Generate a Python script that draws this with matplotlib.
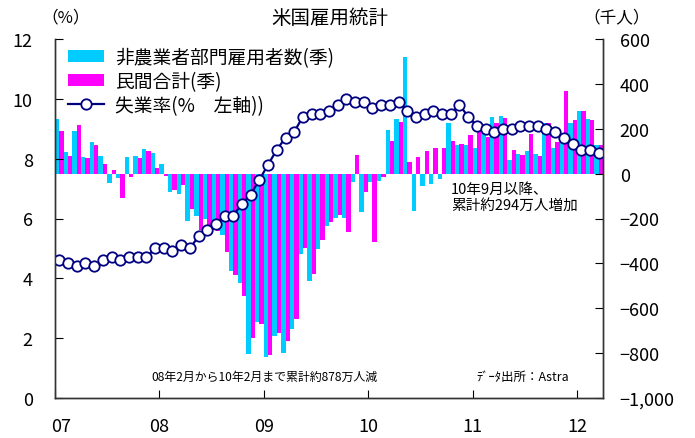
"""US employment statistics: payroll changes (bars) and unemployment rate (line)."""

import matplotlib

matplotlib.use("Agg")
import matplotlib.pyplot as plt
import numpy as np
from matplotlib.ticker import FuncFormatter
from matplotlib.transforms import ScaledTranslation

plt.rcParams["font.family"] = ["Noto Sans CJK JP", "DejaVu Sans"]

# Monthly data, Jan 2007 - Mar 2012 (thousands of persons / %)
nonfarm = [
    242, 98, 192, 75, 143, 80, -40, -18, 75, 80, 111, 93,            # 2007
    45, -80, -93, -210, -187, -200, -252, -273, -435, -489, -804, -661,  # 2008
    -818, -722, -800, -692, -359, -480, -336, -233, -197, -197, -39, -170,  # 2009
    -39, -35, 194, 243, 522, -167, -53, -48, -26, 225, 126, 126,       # 2010
    114, 185, 254, 258, 60, 87, 101, 87, 227, 114, 155, 227,          # 2011
    281, 245, 128,                                                    # 2012
]
private = [
    188, 80, 215, 70, 129, 44, 17, -108, -14, 70, 102, 26,
    -12, -75, -52, -159, -252, -235, -255, -350, -453, -547, -732, -669,
    -809, -710, -745, -647, -332, -449, -296, -215, -185, -262, 81, -80,
    -305, -15, 144, 230, 50, 72, 99, 113, 113, 144, 131, 171,
    200, 164, 227, 249, 105, 83, 177, 78, 227, 141, 370, 240,
    281, 240, 128,
]
unemployment = [
    4.6, 4.5, 4.4, 4.5, 4.4, 4.6, 4.7, 4.6, 4.7, 4.7, 4.7, 5.0,
    5.0, 4.9, 5.1, 5.0, 5.4, 5.6, 5.8, 6.1, 6.1, 6.5, 6.8, 7.3,
    7.8, 8.3, 8.7, 8.9, 9.4, 9.5, 9.5, 9.6, 9.8, 10.0, 9.9, 9.9,
    9.7, 9.8, 9.8, 9.9, 9.6, 9.4, 9.5, 9.6, 9.5, 9.5, 9.8, 9.4,
    9.1, 9.0, 8.9, 9.0, 9.0, 9.1, 9.1, 9.1, 9.0, 8.9, 8.7, 8.5,
    8.3, 8.3, 8.2,
]
year_labels = ["07", "08", "09", "10", "11", "12"]

months = np.arange(len(nonfarm))
CYAN = "#00CCFF"
MAGENTA = "#FF00FF"
NAVY = "#000080"

fig = plt.figure(figsize=(6.95, 4.39), dpi=100)
ax = fig.add_axes([55 / 695, 40 / 439, 548 / 695, 359 / 439])
axl = ax.twinx()

# bars on the right-hand thousands axis
b1 = ax.bar(months - 0.25, nonfarm, width=0.5, color=CYAN, linewidth=0)
b2 = ax.bar(months + 0.25, private, width=0.5, color=MAGENTA, linewidth=0)
ax.set_ylim(-1000, 600)
ax.set_yticks(np.arange(-1000, 601, 200))
ax.yaxis.set_major_formatter(FuncFormatter(lambda v, p: f"{v:,.0f}".replace("-", "\u2212")))
ax.set_xlim(-0.5, len(months) - 0.5)
ax.set_xticks([12 * i - 0.5 for i in range(len(year_labels))])
ax.set_xticklabels(year_labels)

# unemployment rate on the left axis
line, = axl.plot(months, unemployment, color=NAVY, lw=1.6, marker="o",
                 markersize=7.5, markerfacecolor="white", markeredgecolor=NAVY,
                 markeredgewidth=1.3)
axl.set_ylim(0, 12)
axl.set_yticks(np.arange(0, 13, 2))

# swap sides: bars axis -> right, rate axis -> left
ax.yaxis.tick_right()
axl.yaxis.tick_left()
ax.tick_params(axis="y", direction="in", length=6, pad=12, labelsize=13)
ax.tick_params(axis="x", direction="in", length=6, pad=14, labelsize=13)
axl.tick_params(axis="y", direction="in", length=6, pad=16, labelsize=13)

# first year label sits a little right of its tick
first = ax.get_xticklabels()[0]
first.set_transform(first.get_transform() + ScaledTranslation(6 / 100, 0, fig.dpi_scale_trans))

for a in (ax, axl):
    a.spines["top"].set_visible(False)
    for s in ("left", "right", "bottom"):
        a.spines[s].set_color("#333333")
        a.spines[s].set_linewidth(1.0)

fig.legend([b1, b2, line],
           ["非農業者部門雇用者数(季)", "民間合計(季)", "失業率(%\u3000左軸))"],
           loc="upper left", bbox_to_anchor=(68 / 695, 1 - 48 / 439),
           frameon=False, fontsize=13.5, handlelength=1.9, handleheight=0.6,
           handletextpad=0.6, labelspacing=0.15, borderpad=0, borderaxespad=0)

fig.text(330 / 695, 1 - 18 / 439, "米国雇用統計", ha="center", va="center", fontsize=14)
fig.text(66 / 695, 1 - 18 / 439, "（%）", ha="center", va="center", fontsize=12)
fig.text(617 / 695, 1 - 18 / 439, "（千人）", ha="center", va="center", fontsize=12)

ax.text(45, -35, "10年9月以降、\n累計約294万人増加", ha="left", va="top",
        fontsize=10.5, linespacing=1.25)
ax.text(10.6, -905, "08年2月から10年2月まで累計約878万人減", ha="left",
        va="center", fontsize=8.6)
ax.text(48.0, -905, "ﾃﾞｰﾀ出所：Astra", ha="left", va="center", fontsize=9)

fig.savefig("out.png", dpi=100)
